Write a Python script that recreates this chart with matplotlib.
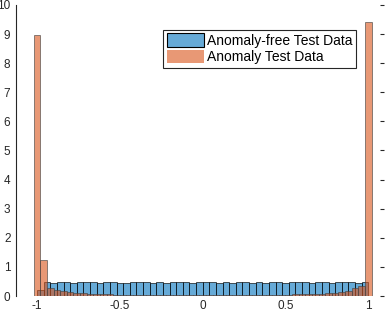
import matplotlib.pyplot as plt
import numpy as np
from matplotlib.patches import Patch

plt.rcParams['font.family'] = ['Liberation Sans', 'DejaVu Sans']

# ===== Data =====
# anomaly-free: 50 bins of width 0.04 from -1 to 1
free_edges = np.round(np.arange(-1.0, 1.0001, 0.04), 4)
free_heights = [0.20, 0.48, 0.46, 0.47, 0.48, 0.46, 0.47, 0.47, 0.48, 0.46,
                0.47, 0.48, 0.46, 0.46, 0.47, 0.48, 0.47, 0.46, 0.47, 0.45,
                0.47, 0.48, 0.47, 0.46, 0.47, 0.47, 0.48, 0.46, 0.47, 0.46,
                0.48, 0.47, 0.46, 0.47, 0.45, 0.47, 0.48, 0.46, 0.47, 0.48,
                0.47, 0.46, 0.48, 0.47, 0.46, 0.47, 0.48, 0.47, 0.45, 0.47]

# anomaly: 51 bins of width 0.04 centred on -1 ... 1
anom_edges = np.round(np.arange(-1.02, 1.0201, 0.04), 4)
anom_heights = [8.95, 1.25, 0.27, 0.20, 0.16, 0.13, 0.10, 0.09, 0.08, 0.07,
                0.07, 0.06, 0.05, 0.05, 0.04, 0.04, 0.04, 0.03, 0.03, 0.03,
                0.03, 0.03, 0.03, 0.03, 0.03, 0.03, 0.03, 0.03, 0.03, 0.03,
                0.03, 0.03, 0.03, 0.03, 0.04, 0.04, 0.04, 0.05, 0.05, 0.06,
                0.06, 0.07, 0.08, 0.08, 0.09, 0.11, 0.14, 0.18, 0.26, 0.33,
                9.42]

blue = (0.0, 0.447, 0.741, 0.6)
orange = (0.85, 0.325, 0.098, 0.6)
edge = (0, 0, 0, 0.75)

# ===== Plot =====
fig = plt.figure(figsize=(3.86, 3.14), dpi=100)
ax = fig.add_axes([0.0415, 0.0573, 0.953, 0.927])

ax.bar(free_edges[:-1], free_heights, width=np.diff(free_edges), align='edge',
       color=blue, edgecolor=edge, linewidth=0.6)
ax.bar(anom_edges[:-1], anom_heights, width=np.diff(anom_edges), align='edge',
       color=orange, edgecolor=(0.25, 0.25, 0.25, 0.7), linewidth=0.6)

ax.set_xlim(-1.127, 1.094)
ax.set_ylim(0, 10)
ax.set_xticks([-1, -0.5, 0, 0.5, 1])
ax.set_xticklabels(['-1', '-0.5', '0', '0.5', '1'])
ax.set_yticks(range(0, 11))

for s in ['top', 'bottom', 'right']:
    ax.spines[s].set_visible(False)
ax.spines['left'].set_color('#262626')
ax.spines['left'].set_linewidth(0.8)
ax.tick_params(axis='x', length=0, labelsize=8.5, colors='#262626', pad=3)
ax.tick_params(axis='y', length=0, labelsize=8.5, colors='#262626', pad=4,
               right=True, direction='in')
ax.tick_params(axis='y', which='major', right=True, length=3, left=False)

handles = [Patch(facecolor=blue, edgecolor='k', linewidth=0.8),
           Patch(facecolor=orange, edgecolor='none')]
leg = ax.legend(handles, ['Anomaly-free Test Data', 'Anomaly Test Data'],
                loc='upper left', bbox_to_anchor=(0.4, 0.914), fontsize=10,
                fancybox=False, framealpha=1, edgecolor='#262626',
                borderpad=0.25, handlelength=2.7, handleheight=1.1,
                handletextpad=0.2, labelspacing=0.15, borderaxespad=0)
leg.get_frame().set_linewidth(0.8)

fig.savefig('out.png', dpi=100)
